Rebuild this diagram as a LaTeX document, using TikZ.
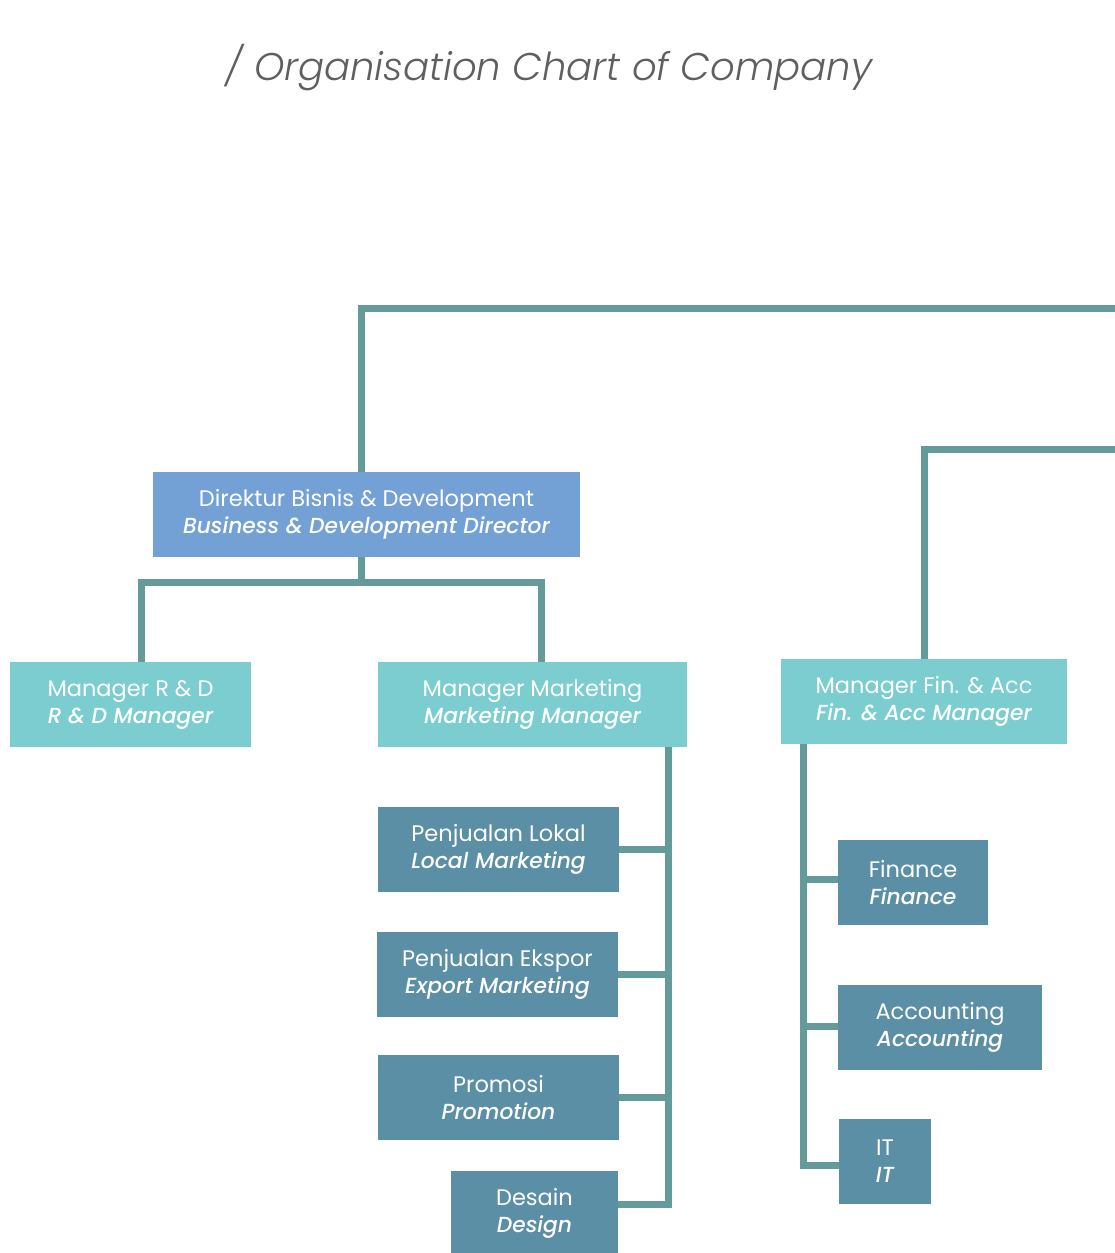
\documentclass[tikz,border=0pt]{standalone}
\usepackage{fontspec}
\setmainfont{Poppins}
\newfontface\subit{Poppins Medium Italic}
\newfontface\ttlfont{Poppins Light Italic}
\definecolor{lnc}{HTML}{659A9A}
\definecolor{dirc}{HTML}{74A1D5}
\definecolor{mgrc}{HTML}{7BCDCF}
\definecolor{stfc}{HTML}{5B8FA6}
\definecolor{ttlc}{HTML}{5F5F5F}
\newcommand{\sub}[1]{{\fontsize{21.8}{27}\selectfont\subit #1}}
\begin{document}
\begin{tikzpicture}[x=1pt,y=-1pt,
  box/.style={rectangle,inner sep=0pt,text=white,align=center,font=\fontsize{22.5}{27}\selectfont},
  dirbox/.style={box,fill=dirc},
  mgrbox/.style={box,fill=mgrc},
  stfbox/.style={box,fill=stfc},
  conn/.style={draw=lnc,line width=7pt,line join=miter}]
\useasboundingbox (0,0) rectangle (1115,1253);
\node[text=ttlc,font=\fontsize{38.6}{46}\selectfont\ttlfont] (title) at (549,68) {/ Organisation Chart of Company};
% boxes: centre, width, height from pixel extents
\node[dirbox,minimum width=427pt,minimum height=85pt] (dir) at (366.5,514.5) {Direktur Bisnis \& Development\\\sub{Business \& Development Director}};
\node[mgrbox,minimum width=241pt,minimum height=85pt] (rd) at (130.5,704.5) {Manager R \& D\\\sub{R \& D Manager}};
\node[mgrbox,minimum width=309pt,minimum height=85pt] (mkt) at (532.5,704.5) {Manager Marketing\\\sub{Marketing Manager}};
\node[mgrbox,minimum width=286pt,minimum height=85pt] (fin) at (924,701.5) {Manager Fin. \& Acc\\\sub{Fin. \& Acc Manager}};
\node[stfbox,minimum width=241pt,minimum height=85pt] (lokal) at (498.5,849.5) {Penjualan Lokal\\\sub{Local Marketing}};
\node[stfbox,minimum width=241pt,minimum height=85pt] (ekspor) at (497.5,974.5) {Penjualan Ekspor\\\sub{Export Marketing}};
\node[stfbox,minimum width=241pt,minimum height=85pt] (promo) at (498.5,1097.5) {Promosi\\\sub{Promotion}};
\node[stfbox,minimum width=167pt,minimum height=85pt] (design) at (534.5,1213.5) {Desain\\\sub{Design}};
\node[stfbox,minimum width=150pt,minimum height=85pt] (finance) at (913,882.5) {Finance\\\sub{Finance}};
\node[stfbox,minimum width=204pt,minimum height=85pt] (acc) at (940,1027.5) {Accounting\\\sub{Accounting}};
\node[stfbox,minimum width=92pt,minimum height=85pt] (it) at (885,1161.5) {IT\\\sub{IT}};
\coordinate (topR) at (1120,308);
\coordinate (finR) at (1120,449);
\coordinate (mv) at (668,747);
\coordinate (fv) at (803,744);
% connectors
\draw[conn] (topR) -| ([xshift=-5.5pt]dir.north);
\draw[conn] (finR) -| (fin.north);
\draw[conn] ([xshift=-5.5pt]dir.south) -- ++(0,25) coordinate (dj);
\draw[conn] ([xshift=10.5pt]rd.north) |- (dj) -| ([xshift=8.5pt]mkt.north);
\draw[conn] (mv) |- ([yshift=9pt]design.east);
\draw[conn] (lokal.east) -- (lokal.east -| mv);
\draw[conn] (ekspor.east) -- (ekspor.east -| mv);
\draw[conn] (promo.east) -- (promo.east -| mv);
\draw[conn] (fv) |- ([yshift=-3.5pt]it.west);
\draw[conn] ([yshift=3.5pt]finance.west) -- ([yshift=3.5pt]finance.west -| fv);
\draw[conn] ([yshift=1.5pt]acc.west) -- ([yshift=1.5pt]acc.west -| fv);
\end{tikzpicture}
\end{document}
